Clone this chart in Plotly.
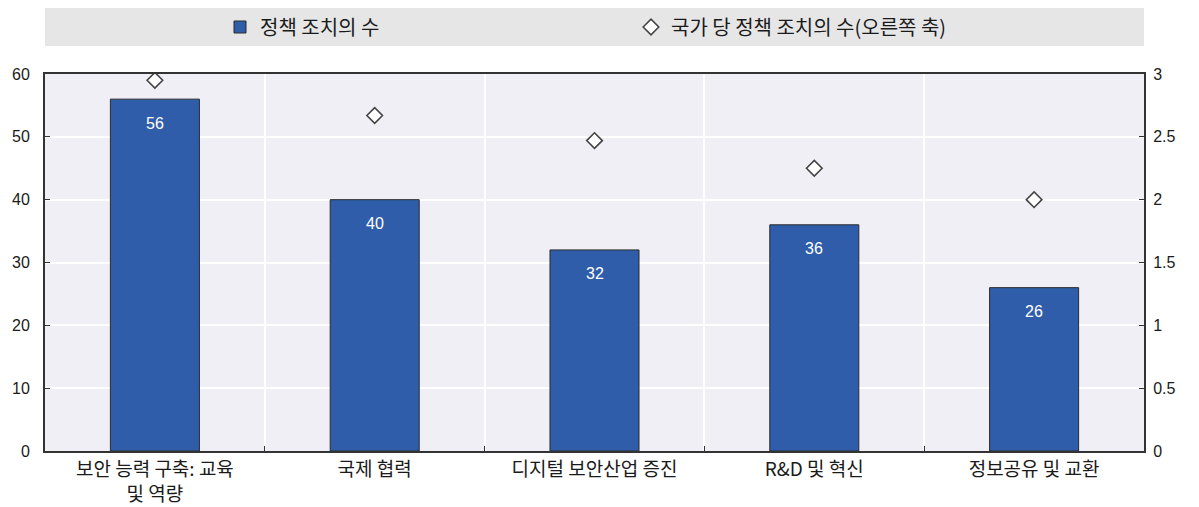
import plotly.graph_objects as go

categories = ["보안 능력 구축: 교육<br>및 역량", "국제 협력", "디지털 보안산업 증진", "R&D 및 혁신", "정보공유 및 교환"]
measures = [56, 40, 32, 36, 26]
per_country = [2.95, 2.67, 2.47, 2.25, 2.0]
name_bar = "정책 조치의 수"
name_pts = "국가 당 정책 조치의 수(오른쪽 축)"

KR = "Noto Sans CJK KR, sans-serif"
NUM = "Liberation Sans, Arial, sans-serif"
AX = "#333333"
TXT = "#1a1a1a"

# page has an 8px body margin; figure is sized/offset to compensate
W, H = 1191, 499
L, R, T, B = 37, 55, 66, 56

fig = go.Figure()
fig.add_trace(go.Bar(
    x=categories, y=measures, name=name_bar,
    marker=dict(color="#2F5DA9", line=dict(color="#2b2b2b", width=1)),
    width=0.405,
    yaxis="y",
))
fig.add_trace(go.Scatter(
    x=categories, y=per_country, name=name_pts, mode="markers",
    marker=dict(symbol="diamond", size=12, color="white", line=dict(color="#444444", width=1.6)),
    yaxis="y2",
))

for c, v in zip(categories, measures):
    fig.add_annotation(x=c, y=v, xref="x", yref="y", text=str(v), showarrow=False,
                       yshift=-24, font=dict(color="white", size=16, family=NUM))

ph = H - T - B
fig.add_shape(type="rect", xref="paper", yref="paper", x0=0, x1=1,
              y0=(ph + T - 38) / ph, y1=(ph + T) / ph,
              fillcolor="#E6E6E6", line=dict(width=0), layer="below")

fig.update_layout(
    width=W, height=H,
    margin=dict(l=L, r=R, t=T, b=B, autoexpand=False),
    paper_bgcolor="white", plot_bgcolor="#EFEFF5",
    font=dict(family=KR, color=TXT),
    showlegend=True,
    legend=dict(orientation="h", xref="container", yref="container",
                x=212 / W, y=1 - 19 / H, xanchor="left", yanchor="middle",
                bgcolor="rgba(0,0,0,0)", font=dict(size=20, family=KR, color=TXT),
                entrywidth=366, entrywidthmode="pixels", itemwidth=30),
    bargap=0.595,
    xaxis=dict(
        type="category", tickson="boundaries", ticks="inside", ticklen=5, tickcolor=AX,
        showgrid=True, gridcolor="white", gridwidth=2,
        showline=True, linecolor=AX, linewidth=2, mirror=True,
        tickfont=dict(size=19, family=KR, color=TXT),
        range=[-0.5, 4.5], automargin=False, ticklabelstandoff=0,
    ),
    yaxis=dict(
        range=[0, 60], dtick=10, ticks="inside", ticklen=5, tickcolor=AX,
        showgrid=True, gridcolor="white", gridwidth=2, zeroline=False,
        showline=True, linecolor=AX, linewidth=2,
        tickfont=dict(size=16, family=NUM, color=TXT),
        ticklabelstandoff=10, automargin=False,
    ),
    yaxis2=dict(
        range=[0, 3], dtick=0.5, overlaying="y", side="right",
        ticks="inside", ticklen=5, tickcolor=AX, showgrid=False, zeroline=False,
        showline=True, linecolor=AX, linewidth=2,
        tickfont=dict(size=16, family=NUM, color=TXT),
        ticklabelstandoff=4, automargin=False,
    ),
)

fig.write_html("out.html")
